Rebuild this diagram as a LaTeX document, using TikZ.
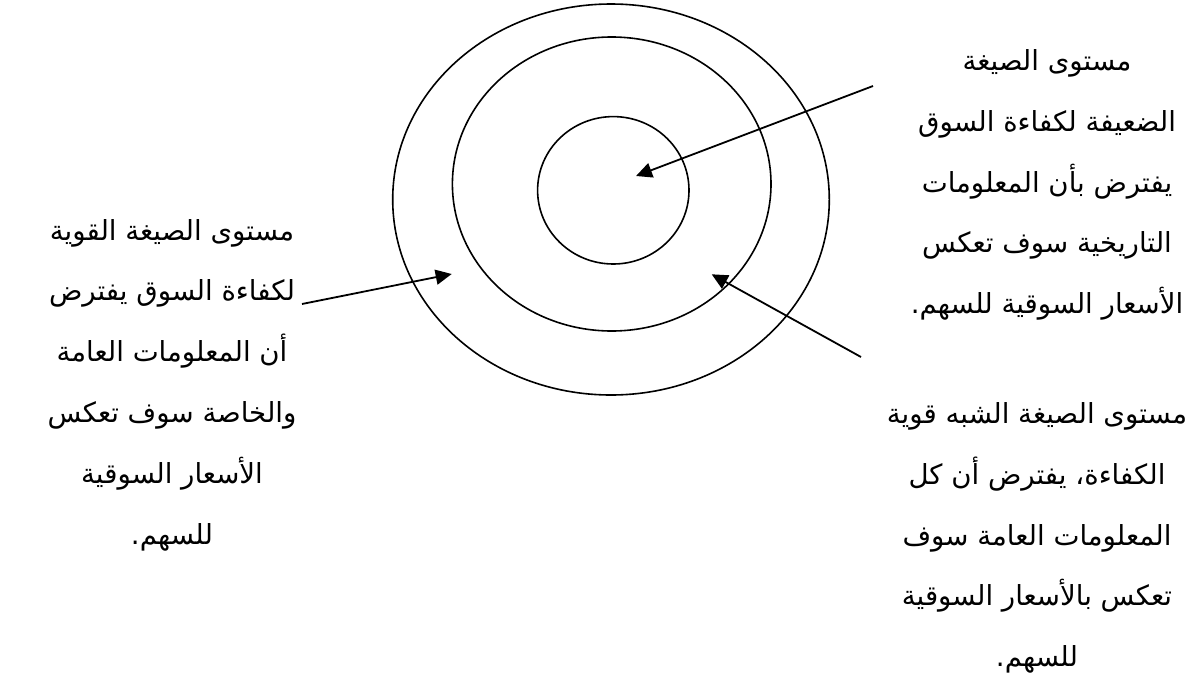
\documentclass[tikz,border=0pt]{standalone}
\usepackage{fontspec}
\newfontfamily\arabicfont[Script=Arabic]{DejaVu Sans}
\TeXXeTstate=1
\usetikzlibrary{arrows.meta,shapes.geometric}
\newcommand{\rtlline}[1]{\beginR #1\endR}
\begin{document}
\begin{tikzpicture}[x=0.5pt,y=-0.5pt,
  ring/.style={ellipse,draw,line width=0.8pt,inner sep=0pt},
  arr/.style={line width=0.9pt,-{Triangle[length=8pt,width=7.5pt]}},
  lbl/.style={align=center,inner sep=0pt,font=\arabicfont\fontsize{13.8}{30.4}\selectfont}]
\useasboundingbox (0,0) rectangle (1194,686);
\node[ring,minimum width=218.3pt,minimum height=195.5pt] (outer) at (611,199.5) {};
\node[ring,minimum width=159.3pt,minimum height=147pt] (middle) at (611.7,184) {};
\node[ring,minimum width=75.7pt,minimum height=73.7pt] (inner) at (613.3,190.3) {};
\coordinate (wS) at (873,86);
\coordinate (wT) at (636,176);
\coordinate (sS) at (861,357);
\coordinate (sT) at (711.7,274.3);
\coordinate (lS) at (302,304);
\coordinate (lT) at (451.7,274);
\draw[arr] (wS) -- (wT);
\draw[arr] (sS) -- (sT);
\draw[arr] (lS) -- (lT);
\node[lbl] (weak) at (1047,185) {\rtlline{مستوى الصيغة}\\
\rtlline{الضعيفة لكفاءة السوق}\\
\rtlline{يفترض بأن المعلومات}\\
\rtlline{التاريخية سوف تعكس}\\
\rtlline{الأسعار السوقية للسهم.}};
\node[lbl] (strong) at (172,385) {\rtlline{مستوى الصيغة القوية}\\
\rtlline{لكفاءة السوق يفترض}\\
\rtlline{أن المعلومات العامة}\\
\rtlline{والخاصة سوف تعكس}\\
\rtlline{الأسعار السوقية}\\
\rtlline{للسهم.}};
\node[lbl] (semi) at (1037,538) {\rtlline{مستوى الصيغة الشبه قوية}\\
\rtlline{الكفاءة، يفترض أن كل}\\
\rtlline{المعلومات العامة سوف}\\
\rtlline{تعكس بالأسعار السوقية}\\
\rtlline{للسهم.}};
\end{tikzpicture}
\end{document}
